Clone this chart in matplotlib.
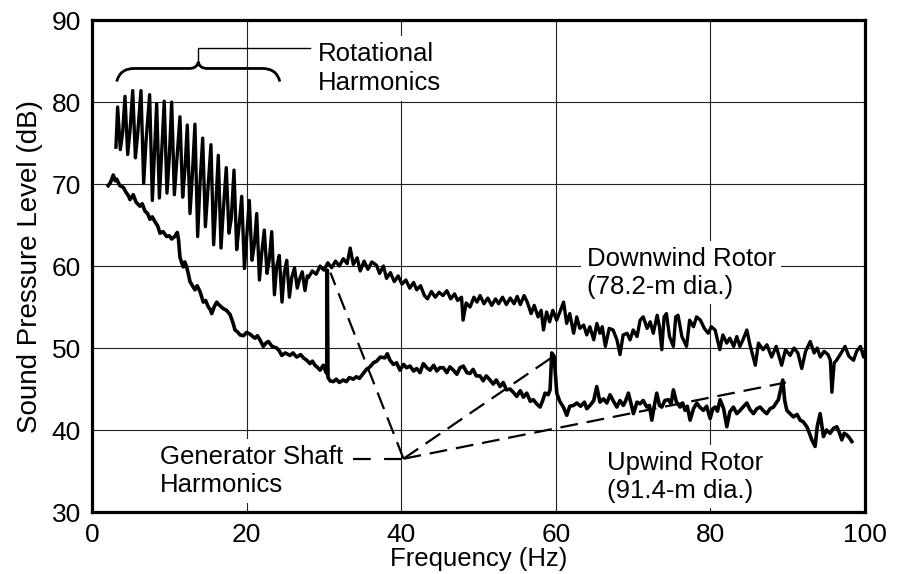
import numpy as np
import matplotlib.pyplot as plt
from matplotlib.path import Path
from matplotlib.patches import PathPatch

plt.rcParams['font.family'] = ['Liberation Sans', 'DejaVu Sans']

# downwind rotor (78.2 m) - rotational harmonics then broadband tail
downwind_hz = [3.10,
    3.32, 3.67, 3.97, 4.27, 4.62, 4.92, 5.27, 5.62, 5.92, 6.34, 6.69, 6.99,
    7.46, 7.81, 8.11, 8.37, 8.72, 9.02, 9.35, 9.70, 10.00, 10.31, 10.66, 10.96,
    11.38, 11.73, 12.03, 12.33, 12.68, 12.98, 13.32, 13.67, 13.97, 14.32, 14.67, 14.97,
    15.39, 15.74, 16.04, 16.34, 16.69, 16.99, 17.37, 17.72, 18.02, 18.37, 18.72, 19.02,
    19.37, 19.72, 20.02, 20.35, 20.70, 21.00, 21.31, 21.66, 21.96, 22.29, 22.64, 22.94,
    23.25, 23.60, 23.90, 24.23, 24.58, 24.88, 25.19, 25.54, 25.84, 26.20, 26.55, 26.85,
    27.20, 27.55, 27.85,
    28.0, 28.5, 29.0, 29.5, 30.0, 30.5, 31.0, 31.5, 32.0, 32.5, 33.0, 33.4,
    33.8, 34.3, 34.7, 35.2, 35.7, 36.2, 36.8, 37.2, 37.7, 38.1, 38.6, 39.1,
    39.6, 40.1, 40.6, 41.1, 41.6, 42.0, 42.5, 43.0, 43.4, 43.9, 44.4, 44.9,
    45.4, 45.9, 46.4, 46.9, 47.3, 47.8, 48.0, 48.4, 48.9, 49.4, 49.8, 50.2,
    50.7, 51.2, 51.7, 52.2, 52.6, 53.1, 53.6, 54.1, 54.6, 55.0, 55.4, 55.9,
    56.3, 56.8, 57.2, 57.7, 58.1, 58.4, 58.8, 59.2, 59.6, 60.1, 60.6, 61.0,
    61.4, 61.8, 62.3, 62.7, 63.1, 63.6, 64.0, 64.4, 64.9, 65.3, 65.7, 66.0,
    66.4, 66.9, 67.4, 67.9, 68.3, 68.7, 69.2, 69.6, 70.0, 70.5, 70.9, 71.3,
    71.8, 72.2, 72.6, 73.1, 73.4, 73.7, 74.0, 74.3, 74.7, 75.2, 75.5, 75.8,
    76.3, 76.9, 77.3, 77.8, 78.2, 78.7, 79.2, 79.7, 80.1, 80.6, 81.2, 81.6,
    82.1, 82.5, 83.0, 83.4, 83.8, 84.2, 84.7, 85.1, 85.8, 86.2, 86.8, 87.3,
    87.9, 88.5, 89.2, 89.7, 90.3, 90.8, 91.3, 91.8, 92.3, 92.9, 93.4, 93.8,
    94.2, 94.7, 95.2, 95.5, 95.7, 96.0, 96.3, 96.9, 97.4, 97.9, 98.5, 98.9,
    99.4, 99.8, 100.0]
downwind_db = [74.5,
    79.4, 74.2, 76.3, 80.7, 73.6, 76.5, 81.4, 73.2, 76.2, 81.4, 70.1, 75.2,
    80.9, 68.0, 74.3, 79.8, 68.3, 73.8, 80.1, 68.9, 73.2, 80.0, 68.7, 72.6,
    78.2, 68.4, 71.8, 77.2, 66.4, 71.0, 77.3, 63.6, 70.0, 75.6, 64.8, 69.0,
    74.8, 62.6, 67.8, 73.5, 62.2, 66.8, 72.0, 64.0, 65.8, 71.7, 62.0, 64.8,
    68.5, 59.7, 63.6, 68.0, 60.7, 62.6, 66.4, 58.3, 61.6, 64.4, 59.1, 60.8,
    64.2, 56.5, 60.0, 61.3, 55.6, 59.2, 60.7, 56.2, 58.6, 59.8, 57.3, 58.4,
    59.3, 57.0, 58.8,
    58.6, 59.4, 59.0, 60.0, 59.5, 60.4, 59.8, 60.6, 60.0, 60.9, 60.3, 62.2,
    60.2, 61.0, 59.4, 60.6, 59.6, 60.5, 60.1, 59.1, 60.0, 58.5, 59.2, 58.1,
    58.8, 57.8, 58.3, 57.3, 58.0, 57.1, 57.6, 56.4, 56.0, 56.9, 56.2, 56.8,
    56.4, 57.0, 56.0, 56.6, 55.8, 56.2, 53.4, 55.5, 55.0, 56.2, 55.6, 56.4,
    55.4, 56.1, 55.2, 56.0, 55.4, 56.2, 55.3, 56.1, 55.4, 56.3, 55.3, 56.4,
    55.6, 54.2, 55.2, 53.8, 54.6, 52.2, 54.4, 53.2, 54.6, 53.4, 54.6, 55.6,
    53.0, 54.2, 51.8, 53.8, 52.4, 52.8, 51.6, 52.6, 51.0, 53.0, 51.8, 52.6,
    50.2, 52.4, 52.2, 51.0, 49.2, 51.6, 51.8, 51.0, 52.2, 51.4, 53.4, 53.8,
    52.4, 53.2, 51.8, 54.0, 52.6, 49.8, 53.8, 54.2, 51.4, 50.2, 53.8, 54.0,
    51.4, 50.2, 53.4, 52.6, 53.8, 53.4, 52.4, 51.8, 52.6, 52.2, 49.8, 51.6,
    50.6, 51.2, 50.2, 51.4, 50.2, 51.0, 52.2, 50.4, 47.9, 50.6, 49.8, 50.4,
    48.9, 50.2, 47.9, 49.8, 49.1, 50.0, 49.4, 47.5, 49.6, 50.8, 49.4, 50.0,
    48.9, 49.6, 49.2, 48.5, 44.6, 48.2, 48.5, 49.4, 50.2, 49.0, 48.5, 49.6,
    50.2, 48.9, 49.6]

# upwind rotor (91.4 m)
upwind_hz = [2.10, 2.40, 2.76, 3.00, 3.20, 3.60, 4.05, 4.40, 4.70, 4.92, 5.34, 5.70,
    6.21, 6.50, 6.86, 7.20, 7.50, 7.80, 8.15, 8.50, 8.80, 9.20, 9.66, 10.00,
    10.31, 10.70, 11.04, 11.20, 11.38, 11.60, 11.81, 12.00, 12.25, 12.50, 12.68, 13.00,
    13.32, 13.60, 13.97, 14.20, 14.40, 14.70, 15.05, 15.30, 15.49, 15.80, 16.13, 16.50,
    16.99, 17.40, 17.85, 18.20, 18.50, 18.80, 19.15, 19.60, 20.00, 20.44, 20.80, 21.09,
    21.40, 21.73, 22.16, 22.50, 22.81, 23.30, 23.89, 24.20, 24.54, 25.00, 25.61, 26.00,
    26.48, 27.00, 27.34, 27.80, 28.20, 28.50, 28.85, 29.20, 29.50, 29.92, 30.20, 30.36,
    30.44, 30.53, 30.80, 31.22, 31.60, 32.00, 32.51, 32.90, 33.30, 33.80, 34.20, 34.60,
    35.10, 35.50, 35.96, 36.40, 36.83, 37.30, 37.90, 38.20, 38.55, 39.00, 39.40, 39.84,
    40.30, 40.70, 41.14, 41.60, 42.00, 42.43, 42.86, 43.30, 43.73, 44.20, 44.60, 45.00,
    45.45, 45.90, 46.30, 46.74, 47.20, 47.60, 48.03, 48.50, 48.90, 49.30, 49.70, 50.19,
    50.60, 51.00, 51.49, 51.90, 52.30, 52.78, 53.20, 53.60, 54.07, 54.50, 54.94, 55.40,
    55.80, 56.23, 56.70, 57.09, 57.50, 57.96, 58.30, 58.60, 59.00, 59.25, 59.47, 59.77,
    60.12, 60.50, 60.97, 61.41, 61.80, 62.30, 62.70, 63.20, 63.70, 64.00, 64.42, 64.90,
    65.29, 65.70, 66.15, 66.60, 67.01, 67.40, 67.88, 68.30, 68.73, 69.00, 69.38, 69.70,
    70.03, 70.50, 70.89, 71.30, 71.76, 72.10, 72.41, 72.70, 73.05, 73.40, 73.70, 74.10,
    74.55, 74.90, 75.20, 75.60, 76.07, 76.40, 76.71, 77.00, 77.36, 77.80, 78.23, 78.60,
    79.08, 79.50, 79.95, 80.30, 80.60, 80.90, 81.24, 81.70, 82.11, 82.50, 82.96, 83.40,
    83.83, 84.30, 84.70, 85.10, 85.55, 86.00, 86.42, 86.90, 87.28, 87.70, 88.14, 88.50,
    88.78, 89.35, 89.60, 89.87, 90.30, 90.72, 91.20, 91.59, 92.00, 92.46, 92.80, 93.10,
    93.53, 93.80, 94.18, 94.61, 95.00, 95.47, 95.90, 96.34, 96.70, 96.98, 97.30, 97.63,
    98.00, 98.28]
upwind_db = [69.8, 70.2, 71.1, 70.4, 70.6, 69.8, 69.6, 69.0, 68.6, 68.1, 68.7, 67.8,
    67.3, 67.6, 66.7, 66.4, 65.7, 66.0, 65.4, 64.9, 64.0, 64.2, 63.6, 63.7,
    63.3, 63.6, 64.1, 63.2, 61.1, 60.4, 59.9, 60.5, 59.9, 58.9, 58.1, 57.6,
    57.1, 57.6, 56.9, 56.2, 55.6, 55.8, 55.0, 54.7, 54.2, 55.0, 55.6, 55.2,
    54.8, 54.6, 54.1, 53.2, 52.2, 52.0, 51.6, 51.5, 51.9, 51.7, 51.4, 51.2,
    51.5, 51.0, 50.2, 50.6, 50.8, 50.2, 50.0, 49.7, 49.1, 49.4, 49.1, 49.4,
    48.9, 49.2, 48.8, 48.5, 48.1, 48.4, 47.9, 47.6, 47.3, 47.9, 47.2, 46.9,
    59.5, 46.4, 46.0, 45.9, 46.2, 45.8, 46.1, 45.9, 46.4, 46.2, 46.5, 46.3,
    46.9, 47.4, 47.7, 48.2, 48.4, 48.9, 48.8, 49.3, 48.5, 48.0, 48.2, 47.3,
    48.0, 47.6, 47.8, 47.2, 47.5, 47.0, 48.1, 47.6, 47.3, 47.9, 47.2, 47.6,
    47.6, 47.0, 47.7, 47.3, 46.8, 47.6, 47.8, 47.0, 46.9, 47.4, 46.6, 46.6,
    46.0, 46.6, 46.1, 45.6, 46.1, 45.3, 45.8, 44.9, 45.0, 44.6, 44.1, 44.8,
    44.0, 44.5, 43.5, 43.7, 43.2, 42.8, 43.6, 44.5, 44.3, 44.9, 49.4, 49.0,
    44.5, 43.5, 42.8, 41.8, 42.9, 43.0, 43.3, 42.9, 43.4, 42.6, 43.0, 43.6,
    45.3, 43.4, 43.8, 43.3, 44.3, 43.6, 42.8, 43.6, 43.0, 43.5, 44.5, 43.3,
    42.0, 43.4, 43.2, 43.6, 42.8, 43.0, 41.2, 42.8, 44.5, 43.0, 42.8, 43.6,
    43.7, 43.2, 44.9, 43.4, 42.8, 43.3, 42.4, 42.9, 41.2, 42.6, 43.3, 42.8,
    42.4, 42.9, 41.4, 42.6, 42.8, 42.3, 43.7, 42.6, 40.4, 42.2, 42.8, 42.0,
    42.4, 42.9, 43.3, 42.5, 42.0, 42.6, 42.8, 42.3, 42.0, 42.6, 42.8, 43.3,
    43.7, 46.1, 43.6, 42.4, 42.0, 41.6, 41.9, 41.2, 41.0, 40.4, 39.6, 38.8,
    38.0, 40.4, 42.0, 39.2, 40.0, 39.6, 40.2, 40.4, 39.6, 38.8, 39.6, 39.4,
    39.0, 38.6]

# generator shaft harmonic spikes on the upwind curve
shaft_hz = [30.44, 59.47, 89.35]

x_ticks = [0, 20, 40, 60, 80, 100]
y_ticks = [30, 40, 50, 60, 70, 80, 90]

fig = plt.figure(figsize=(8.98, 5.74), dpi=100)
ax = fig.add_axes([0.1024, 0.108, 0.861, 0.857])
ax.set_xlim(0, 100)
ax.set_ylim(30, 90)
ax.set_xticks(x_ticks)
ax.set_yticks(y_ticks)
ax.tick_params(length=0, labelsize=19, pad=8)
ax.grid(True, color='#222222', lw=0.8, zorder=0)
for s in ax.spines.values():
    s.set_linewidth(2.3)
ax.set_xlabel('Frequency (Hz)', fontsize=18.5, labelpad=0)
ax.set_ylabel('Sound Pressure Level (dB)', fontsize=20, labelpad=6)

ax.plot(downwind_hz, downwind_db, color='black', lw=2.4, zorder=3)
ax.plot(upwind_hz, upwind_db, color='black', lw=2.6, zorder=3)

# dashed leaders from the label to the shaft harmonics
vx, vy = 40.3, 36.5
for f in shaft_hz:
    top = np.interp(f, upwind_hz, upwind_db)
    ax.plot([vx, f + 0.4], [vy, top - 0.3], color='black', lw=1.6,
            dashes=(8, 4), zorder=4)
ax.plot([33.8, vx], [vy, vy], color='black', lw=1.6, dashes=(8, 6), zorder=4)

# curly brace over rotational harmonics
verts = [(3.2, 82.5), (3.6, 84.1), (5.5, 84.1), (12.6, 84.1),
         (13.6, 84.1), (13.75, 84.9), (13.9, 84.1), (14.9, 84.1),
         (22.0, 84.1), (23.9, 84.1), (24.3, 82.5)]
codes = [Path.MOVETO, Path.CURVE3, Path.CURVE3, Path.LINETO,
         Path.CURVE3, Path.CURVE3, Path.CURVE3, Path.CURVE3,
         Path.LINETO, Path.CURVE3, Path.CURVE3]
ax.add_patch(PathPatch(Path(verts, codes), fill=False, lw=2.0, zorder=4))
ax.plot([13.75, 13.75, 28.2], [84.9, 86.55, 86.55], color='black', lw=1.0, zorder=4)

box = dict(facecolor='white', edgecolor='none', pad=4)
ax.text(29.2, 84.1, 'Rotational\nHarmonics', fontsize=18.5, va='center',
        linespacing=1.3, bbox=box, zorder=5)
ax.text(64.0, 59.2, 'Downwind Rotor\n(78.2-m dia.)', fontsize=18.5, va='center',
        linespacing=1.2, bbox=box, zorder=5)
ax.text(66.6, 34.3, 'Upwind Rotor\n(91.4-m dia.)', fontsize=18.5, va='center',
        linespacing=1.2, bbox=box, zorder=5)
ax.text(8.8, 35.0, 'Generator Shaft\nHarmonics', fontsize=18.5, va='center',
        linespacing=1.2, bbox=box, zorder=5)

plt.savefig('out.png', dpi=100)
